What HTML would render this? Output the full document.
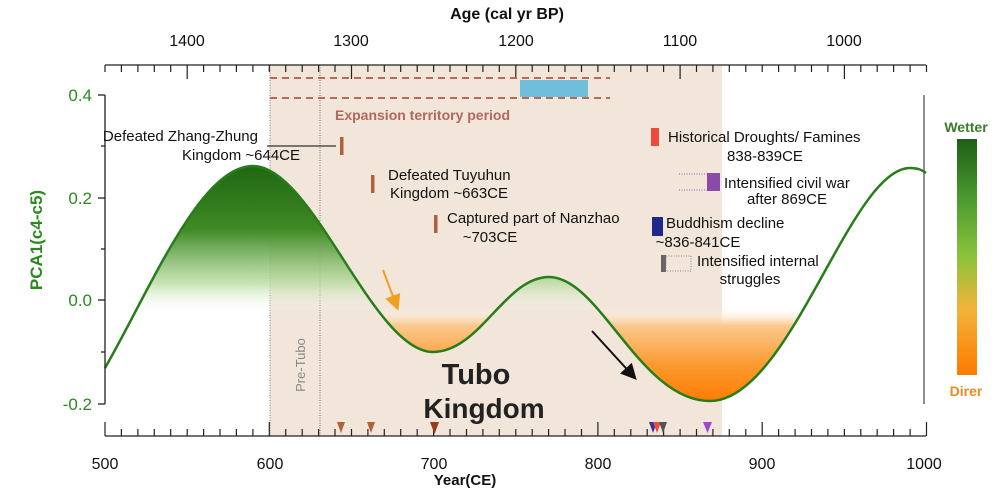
<!DOCTYPE html>
<html><head><meta charset="utf-8"><style>
html,body{margin:0;padding:0;background:#fff;}
svg{display:block;font-family:"Liberation Sans",sans-serif;}
</style></head><body>
<svg width="1000" height="490" viewBox="0 0 1000 490" xmlns="http://www.w3.org/2000/svg">
<defs>
<linearGradient id="gG" x1="0" y1="0" x2="0" y2="1">
<stop offset="0" stop-color="#1e6410"/><stop offset="0.45" stop-color="#3f8a25"/><stop offset="0.8" stop-color="#b8dca0" stop-opacity="0.8"/><stop offset="1" stop-color="#ffffff" stop-opacity="0"/></linearGradient>
<linearGradient id="gO" x1="0" y1="0" x2="0" y2="1">
<stop offset="0" stop-color="#ffffff" stop-opacity="0"/><stop offset="0.2" stop-color="#fbc98e"/><stop offset="0.6" stop-color="#fb9a30"/><stop offset="1" stop-color="#ff7a00"/></linearGradient>
<linearGradient id="gBar" x1="0" y1="0" x2="0" y2="1">
<stop offset="0" stop-color="#1e5e16"/><stop offset="0.25" stop-color="#4a9a2e"/><stop offset="0.5" stop-color="#8cc33c"/><stop offset="0.72" stop-color="#f2b33a"/><stop offset="1" stop-color="#ff7a00"/></linearGradient>
<clipPath id="below"><path d="M105,368 C150,290 200,166 253,166 C313,166 373,352 433,352 C480,352 505,277 549,277 C600,277 640,401 710,401 C790,401 850,168 910,168 C918,168 922,170 926,173 L926,440 L105,440Z"/></clipPath>
<clipPath id="above"><path d="M105,368 C150,290 200,166 253,166 C313,166 373,352 433,352 C480,352 505,277 549,277 C600,277 640,401 710,401 C790,401 850,168 910,168 C918,168 922,170 926,173 L926,60 L105,60Z"/></clipPath>
<marker id="ah" markerWidth="8" markerHeight="8" refX="6" refY="4" orient="auto"><path d="M0,0 L8,4 L0,8 Z" fill="context-stroke"/></marker>
</defs>
<rect x="270" y="65" width="452" height="371" fill="#f2e5da"/>
<line x1="270" y1="65" x2="270" y2="436" stroke="#555" stroke-width="0.8" stroke-dasharray="1,1.5"/>
<line x1="320" y1="65" x2="320" y2="436" stroke="#555" stroke-width="0.8" stroke-dasharray="1,1.5"/>
<rect x="105" y="160" width="560" height="154" fill="url(#gG)" clip-path="url(#below)"/>
<rect x="385" y="306" width="440" height="98" fill="url(#gO)" clip-path="url(#above)"/>
<path d="M105,368 C150,290 200,166 253,166 C313,166 373,352 433,352 C480,352 505,277 549,277 C600,277 640,401 710,401 C790,401 850,168 910,168 C918,168 922,170 926,173" fill="none" stroke="#267d1a" stroke-width="2.5"/>
<g stroke="#222" stroke-width="1.3" fill="none">
<line x1="105" y1="95" x2="105" y2="404"/>
<line x1="924" y1="95" x2="924" y2="404" stroke="#555"/>
<line x1="98" y1="95" x2="105" y2="95"/><line x1="98" y1="198" x2="105" y2="198"/><line x1="98" y1="300" x2="105" y2="300"/><line x1="98" y1="404" x2="105" y2="404"/>
<line x1="101" y1="146" x2="105" y2="146"/><line x1="101" y1="249" x2="105" y2="249"/><line x1="101" y1="352" x2="105" y2="352"/>
<line x1="105" y1="436" x2="926" y2="436"/>
<line x1="105" y1="65" x2="926" y2="65"/>
</g>
<g stroke="#222" stroke-width="1.2">
<path d="M105.0,436v-14M121.4,436v-7M137.9,436v-7M154.3,436v-7M170.7,436v-7M187.2,436v-7M203.6,436v-7M220.0,436v-7M236.4,436v-7M252.9,436v-7M269.3,436v-14M285.7,436v-7M302.2,436v-7M318.6,436v-7M335.0,436v-7M351.5,436v-7M367.9,436v-7M384.3,436v-7M400.7,436v-7M417.2,436v-7M433.6,436v-14M450.0,436v-7M466.5,436v-7M482.9,436v-7M499.3,436v-7M515.8,436v-7M532.2,436v-7M548.6,436v-7M565.0,436v-7M581.5,436v-7M597.9,436v-14M614.3,436v-7M630.8,436v-7M647.2,436v-7M663.6,436v-7M680.1,436v-7M696.5,436v-7M712.9,436v-7M729.3,436v-7M745.8,436v-7M762.2,436v-14M778.6,436v-7M795.1,436v-7M811.5,436v-7M827.9,436v-7M844.4,436v-7M860.8,436v-7M877.2,436v-7M893.6,436v-7M910.1,436v-7M926.5,436v-14"/>
<path d="M105,65v7M121.4,65v7M137.9,65v7M154.3,65v7M170.7,65v7M187.2,65v14M203.6,65v7M220.0,65v7M236.4,65v7M252.9,65v7M269.3,65v7M285.7,65v7M302.2,65v7M318.6,65v7M335.0,65v7M351.5,65v14M367.9,65v7M384.3,65v7M400.7,65v7M417.2,65v7M433.6,65v7M450.0,65v7M466.5,65v7M482.9,65v7M499.3,65v7M515.8,65v14M532.2,65v7M548.6,65v7M565.0,65v7M581.5,65v7M597.9,65v7M614.3,65v7M630.8,65v7M647.2,65v7M663.6,65v7M680.1,65v14M696.5,65v7M712.9,65v7M729.3,65v7M745.8,65v7M762.2,65v7M778.6,65v7M795.1,65v7M811.5,65v7M827.9,65v7M844.4,65v14M860.8,65v7M877.2,65v7M893.6,65v7M910.1,65v7M926.5,65v7"/>
</g>
<g font-size="16" fill="#111" text-anchor="middle">
<text x="105" y="469">500</text><text x="270" y="469">600</text><text x="434" y="469">700</text><text x="598" y="469">800</text><text x="762" y="469">900</text><text x="924" y="469">1000</text>
<text x="187" y="46">1400</text><text x="351" y="46">1300</text><text x="516" y="46">1200</text><text x="680" y="46">1100</text><text x="844" y="46">1000</text>
</g>
<text x="465" y="485" font-size="15" font-weight="bold" text-anchor="middle" fill="#111">Year(CE)</text>
<text x="507" y="19" font-size="16" font-weight="bold" text-anchor="middle" fill="#111">Age (cal yr BP)</text>
<g font-size="17" fill="#2a8a1e" text-anchor="end">
<text x="92" y="101">0.4</text><text x="92" y="204">0.2</text><text x="92" y="306">0.0</text><text x="92" y="410">-0.2</text>
</g>
<text transform="translate(42,240) rotate(-90)" font-size="17" font-weight="bold" fill="#2a8a1e" text-anchor="middle">PCA1(c4-c5)</text>
<g stroke="#b86a50" stroke-width="2" stroke-dasharray="7,5">
<line x1="270" y1="78" x2="610" y2="78"/><line x1="270" y1="98" x2="610" y2="98"/></g>
<rect x="520" y="80" width="68" height="17" fill="#6fbfdc"/>
<text x="335" y="120" font-size="14" font-weight="bold" fill="#b0685c">Expansion territory period</text>
<g font-size="15" fill="#111">
<text x="258" y="141" text-anchor="end">Defeated Zhang-Zhung</text>
<text x="241" y="160" text-anchor="middle">Kingdom ~644CE</text>
<line x1="267" y1="146" x2="336" y2="146" stroke="#333" stroke-width="1.2"/>
<rect x="340" y="137" width="3.5" height="18" fill="#b0603a"/>
<rect x="371" y="175" width="3.5" height="18" fill="#b0603a"/>
<text x="388" y="180">Defeated Tuyuhun</text>
<text x="390" y="198">Kingdom ~663CE</text>
<rect x="434" y="215" width="3.5" height="18" fill="#b0603a"/>
<text x="447" y="223">Captured part of Nanzhao</text>
<text x="490" y="242" text-anchor="middle">~703CE</text>
<rect x="651" y="128" width="8" height="18" fill="#ef4a3c"/>
<text x="668" y="142">Historical Droughts/ Famines</text>
<text x="765" y="161" text-anchor="middle">838-839CE</text>
<line x1="679" y1="174" x2="707" y2="174" stroke="#9a5cb0" stroke-dasharray="1,1.5"/>
<line x1="679" y1="190" x2="707" y2="190" stroke="#9a5cb0" stroke-dasharray="1,1.5"/>
<rect x="707" y="173" width="13" height="18" fill="#8a4aa8"/>
<text x="724" y="188">Intensified civil war</text>
<text x="787" y="204" text-anchor="middle">after 869CE</text>
<rect x="652" y="217" width="11" height="19" fill="#1c2a8a"/>
<text x="666" y="228">Buddhism decline</text>
<text x="698" y="247" text-anchor="middle">~836-841CE</text>
<rect x="661" y="255" width="5" height="17" fill="#666"/>
<rect x="666" y="256" width="25" height="15" fill="none" stroke="#888" stroke-dasharray="1,1.5"/>
<text x="697" y="266">Intensified internal</text>
<text x="750" y="284" text-anchor="middle">struggles</text>
</g>
<line x1="383" y1="270" x2="397" y2="307" stroke="#f0a020" stroke-width="2" marker-end="url(#ah)"/>
<line x1="592" y1="331" x2="634" y2="377" stroke="#111" stroke-width="2" marker-end="url(#ah)"/>
<text transform="translate(305,365) rotate(-90)" font-size="13" fill="#888" text-anchor="middle">Pre-Tubo</text>
<text x="476" y="384" font-size="29" font-weight="bold" fill="#222" text-anchor="middle">Tubo</text>
<text x="484" y="418" font-size="28" font-weight="bold" fill="#222" text-anchor="middle">Kingdom</text>
<g>
<path d="M337,422 h8 l-4,11z" fill="#b0603a"/>
<path d="M367,422 h8 l-4,11z" fill="#b0603a"/>
<path d="M430,422 h9 l-4.5,12z" fill="#9a3a1a"/>
<path d="M649,422 h8 l-4,11z" fill="#2a3a9a"/>
<path d="M653,422 h8 l-4,11z" fill="#ef4a3c"/>
<path d="M659,422 h8 l-4,11z" fill="#555"/>
<path d="M703,422 h9 l-4.5,11z" fill="#9a4ad0"/>
</g>
<rect x="957" y="139" width="20" height="236" fill="url(#gBar)"/>
<text x="966" y="132" font-size="14" font-weight="bold" fill="#3a7a2a" text-anchor="middle">Wetter</text>
<text x="966" y="396" font-size="14" font-weight="bold" fill="#f08a20" text-anchor="middle">Direr</text>
</svg>
</body></html>
